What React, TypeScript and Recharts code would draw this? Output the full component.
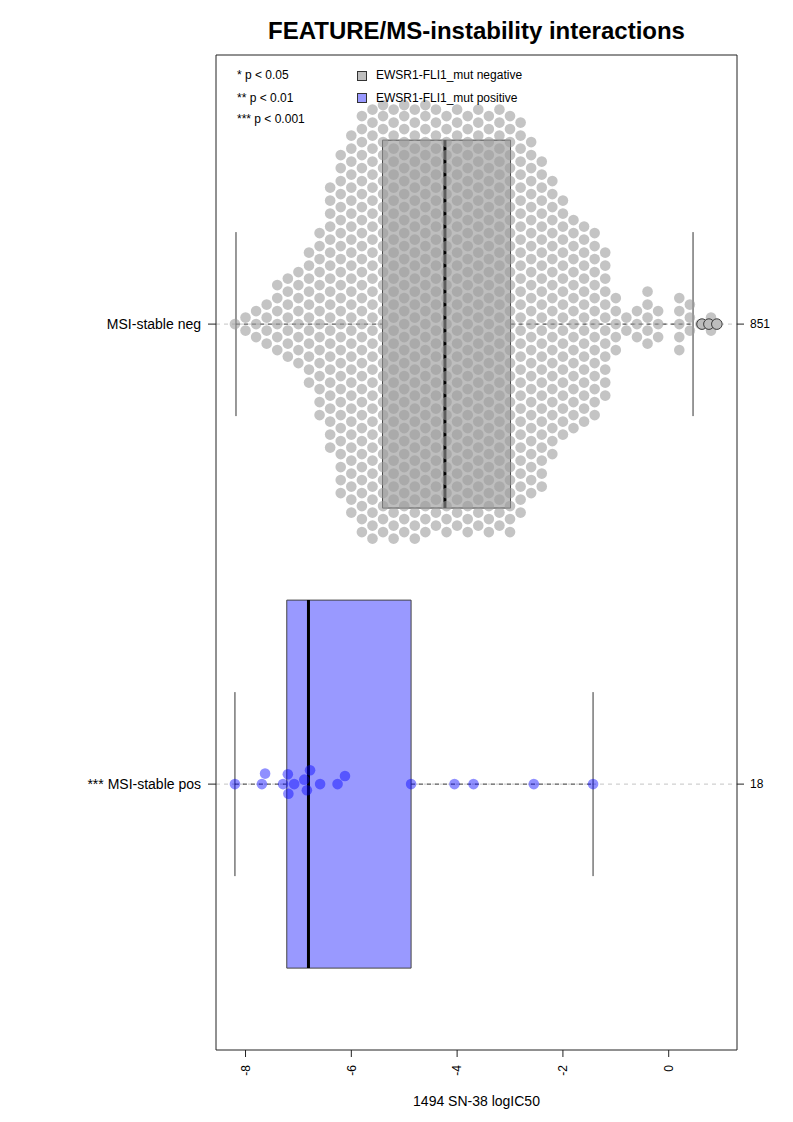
import React from 'react';
import { ScatterChart, Scatter, XAxis, YAxis, ReferenceArea, ReferenceLine } from 'recharts';

// ---------- data ----------
const groupPositions = [1, 2];
const groupLabels = ['MSI-stable neg', '*** MSI-stable pos'];
const groupSizes = ['851', '18'];
const xTicks = [-8, -6, -4, -2, 0];

// MSI-stable neg: swarm columns (logIC50 column centre) and number of cell lines per column
const negColumnCenters = [
  -8.2, -8.0, -7.8, -7.6, -7.4, -7.2, -7.0, -6.8, -6.6, -6.4, -6.2, -6.0, -5.8, -5.6,
  -5.4, -5.2, -5.0, -4.8, -4.6, -4.4, -4.2, -4.0, -3.8, -3.6, -3.4, -3.2, -3.0,
  -2.8, -2.6, -2.4, -2.2, -2.0, -1.8, -1.6, -1.4, -1.2, -1.0,
  -0.8, -0.6, -0.4, -0.2, 0.0, 0.2, 0.4, 0.6, 0.8,
];
const negColumnCounts = [
  1, 2, 3, 4, 6, 7, 8, 11, 15, 21, 27, 30, 33, 34,
  34, 34, 34, 34, 34, 33, 33, 33, 33, 33, 33, 33, 33,
  31, 28, 26, 22, 19, 17, 16, 15, 12, 5,
  2, 3, 5, 3, 0, 5, 3, 1, 2,
];
const negOutliers = [0.63, 0.76, 0.91];

// MSI-stable pos: individual cell lines
const posValues = [
  -8.2, -7.69, -7.63, -7.29, -7.2, -7.19, -7.08, -6.89, -6.84, -6.78,
  -6.59, -6.26, -6.12, -4.87, -4.05, -3.69, -2.55, -1.43,
];

// box statistics per group [neg, pos]
const boxMin = [-8.18, -8.2];
const boxQ1 = [-5.41, -7.22];
const boxMedian = [-4.23, -6.81];
const boxQ3 = [-2.99, -4.87];
const boxMax = [0.46, -1.43];

const boxFills = ['#bebebe', '#9999ff'];
const pointFills = ['#9d9d9d', '#0000ff'];
const pointOpacity = [0.6, 0.44];

// ---------- layout ----------
const CHART_W = 777;
const CHART_H = 1106;
const MARGIN = { top: 47, right: 8, bottom: 0, left: 58 };
const LEFT_AXIS_W = 150;
const RIGHT_AXIS_W = 40;
const X_AXIS_H = 64;
const X_DOMAIN: [number, number] = [-8.558, 1.291];
const Y_DOMAIN: [number, number] = [0.415, 2.578];
const PLOT_W = CHART_W - MARGIN.left - MARGIN.right - LEFT_AXIS_W - RIGHT_AXIS_W;
const PLOT_H = CHART_H - MARGIN.top - MARGIN.bottom - X_AXIS_H;
const PX_PER_X = PLOT_W / (X_DOMAIN[1] - X_DOMAIN[0]);
const PX_PER_Y = PLOT_H / (Y_DOMAIN[1] - Y_DOMAIN[0]);
const R = 5.3;
const BOX_HALF = 0.4;
const STAPLE_HALF = 0.2;

// hexagonal bee-swarm for the binned group
const V_STEP = 13;
const GUTTER = 219;
function hexSwarm(centers: number[], counts: number[], group: number) {
  const pts: { x: number; y: number }[] = [];
  centers.forEach((c, i) => {
    const n = counts[i];
    for (let k = 0; k < n; k++) {
      let off: number;
      if (i % 2 === 0) off = k === 0 ? 0 : Math.ceil(k / 2) * V_STEP * (k % 2 === 1 ? -1 : 1);
      else off = (Math.floor(k / 2) + 0.5) * V_STEP * (k % 2 === 0 ? -1 : 1);
      off = Math.max(-GUTTER, Math.min(GUTTER, off));
      pts.push({ x: c, y: group + off / PX_PER_Y });
    }
  });
  return pts;
}

// classic swarm placement for individual values
function swarm(values: number[], group: number, d: number) {
  const placed: { px: number; py: number; v: number }[] = [];
  const sorted = [...values].sort((a, b) => a - b);
  for (const v of sorted) {
    const px = v * PX_PER_X;
    const near = placed.filter((p) => Math.abs(p.px - px) < d);
    const cands = [0];
    for (const p of near) {
      const dy = Math.sqrt(d * d - (p.px - px) ** 2);
      cands.push(p.py + dy, p.py - dy);
    }
    cands.sort((a, b) => Math.abs(a) - Math.abs(b) || a - b);
    const py =
      cands.find((c) => near.every((p) => (p.px - px) ** 2 + (p.py - c) ** 2 >= d * d - 1e-6)) ?? 0;
    placed.push({ px, py, v });
  }
  return placed.map((p) => ({ x: p.v, y: group + p.py / PX_PER_Y }));
}

const negPoints = hexSwarm(negColumnCenters, negColumnCounts, groupPositions[0]);
const posPoints = swarm(posValues, groupPositions[1], 11);
const negOutlierPoints = negOutliers.map((v) => ({ x: v, y: groupPositions[0] }));

const FONT = '"Liberation Sans", Arial, Helvetica, sans-serif';

const makeDot = (fill: string, opacity: number) => (props: any) =>
  <circle cx={props.cx} cy={props.cy} r={R} fill={fill} fillOpacity={opacity} stroke="none" />;

const outlierDot = (props: any) =>
  <circle cx={props.cx} cy={props.cy} r={R} fill="#bdbdbd" stroke="#3a3a3a" strokeWidth={1} />;

const XTick = (props: any) => {
  const { x, y, payload } = props;
  return (
    <text x={x} y={y} dy="0.35em" textAnchor="end" fontSize={12} fill="#000" fontFamily={FONT}
      transform={`rotate(-90, ${x}, ${y})`}>
      {payload.value}
    </text>
  );
};

export default function App() {
  const legendRows = ['* p < 0.05', '** p < 0.01', '*** p < 0.001'];
  const legendKeys = ['EWSR1-FLI1_mut negative', 'EWSR1-FLI1_mut positive'];
  const rowCenters = [67, 89.5, 110.5];
  return (
    <div style={{ position: 'relative', width: CHART_W, height: CHART_H, fontFamily: FONT }}>
      <div style={{ position: 'absolute', left: 208, width: 521, top: 9, lineHeight: '28px', textAlign: 'center',
        fontSize: 24, fontWeight: 'bold', color: '#000', whiteSpace: 'nowrap' }}>
        FEATURE/MS-instability interactions
      </div>
      <ScatterChart width={CHART_W} height={CHART_H} margin={MARGIN} style={{ fontFamily: FONT }}>
        <XAxis type="number" dataKey="x" domain={X_DOMAIN} ticks={xTicks} allowDataOverflow
          height={X_AXIS_H} axisLine={false} tickSize={7} tickMargin={8}
          tickLine={{ stroke: '#222' }} tick={<XTick />} interval={0}
          label={{ value: '1494 SN-38 logIC50', position: 'insideBottom', offset: 8, fontSize: 14, fill: '#000' }} />
        <YAxis yAxisId="L" type="number" dataKey="y" domain={Y_DOMAIN} reversed allowDataOverflow
          ticks={groupPositions} width={LEFT_AXIS_W} axisLine={false} tickSize={8} tickMargin={7}
          tickLine={{ stroke: '#222' }} interval={0}
          tick={{ fontSize: 14, fill: '#000' }}
          tickFormatter={(v: number) => groupLabels[groupPositions.indexOf(v)]} />
        <YAxis yAxisId="R" orientation="right" type="number" dataKey="y" domain={Y_DOMAIN} reversed allowDataOverflow
          ticks={groupPositions} width={RIGHT_AXIS_W} axisLine={false} tickSize={7} tickMargin={6}
          tickLine={{ stroke: '#222' }} interval={0}
          tick={{ fontSize: 12, fill: '#000' }}
          tickFormatter={(v: number) => groupSizes[groupPositions.indexOf(v)]} />

        {groupPositions.map((g) => (
          <ReferenceLine key={`c${g}`} yAxisId="L" y={g} stroke="#c4c4c4" strokeDasharray="4 4" zIndex={50} />
        ))}
        {groupPositions.map((g, i) => (
          <ReferenceLine key={`wl${g}`} yAxisId="L" segment={[{ x: boxMin[i], y: g }, { x: boxQ1[i], y: g }]}
            stroke="#333" strokeDasharray="4 4" zIndex={60} />
        ))}
        {groupPositions.map((g, i) => (
          <ReferenceLine key={`wr${g}`} yAxisId="L" segment={[{ x: boxQ3[i], y: g }, { x: boxMax[i], y: g }]}
            stroke="#333" strokeDasharray="4 4" zIndex={60} />
        ))}
        {groupPositions.map((g, i) => (
          <ReferenceLine key={`sl${g}`} yAxisId="L"
            segment={[{ x: boxMin[i], y: g - STAPLE_HALF }, { x: boxMin[i], y: g + STAPLE_HALF }]}
            stroke="#333" zIndex={60} />
        ))}
        {groupPositions.map((g, i) => (
          <ReferenceLine key={`sr${g}`} yAxisId="L"
            segment={[{ x: boxMax[i], y: g - STAPLE_HALF }, { x: boxMax[i], y: g + STAPLE_HALF }]}
            stroke="#333" zIndex={60} />
        ))}
        {groupPositions.map((g, i) => (
          <ReferenceArea key={`b${g}`} yAxisId="L" x1={boxQ1[i]} x2={boxQ3[i]} y1={g - BOX_HALF} y2={g + BOX_HALF}
            fill={boxFills[i]} fillOpacity={1} stroke="#444" strokeWidth={1} zIndex={100} />
        ))}
        {groupPositions.map((g, i) => (
          <ReferenceLine key={`m${g}`} yAxisId="L"
            segment={[{ x: boxMedian[i], y: g - BOX_HALF }, { x: boxMedian[i], y: g + BOX_HALF }]}
            stroke="#000" strokeWidth={3} zIndex={110} />
        ))}

        <Scatter yAxisId="L" data={negPoints} shape={makeDot(pointFills[0], pointOpacity[0])} isAnimationActive={false} zIndex={600} />
        <Scatter yAxisId="L" data={posPoints} shape={makeDot(pointFills[1], pointOpacity[1])} isAnimationActive={false} zIndex={600} />
        <Scatter yAxisId="L" data={negOutlierPoints} shape={outlierDot} isAnimationActive={false} zIndex={650} />

        <ReferenceArea yAxisId="L" x1={X_DOMAIN[0]} x2={X_DOMAIN[1]} y1={Y_DOMAIN[0]} y2={Y_DOMAIN[1]}
          fill="none" stroke="#222" strokeWidth={1} ifOverflow="visible" zIndex={900} />
      </ScatterChart>

      {legendRows.map((t, i) => (
        <div key={t} style={{ position: 'absolute', left: 229, top: rowCenters[i] - 7, lineHeight: '14px',
          fontSize: 12, color: '#000', whiteSpace: 'nowrap' }}>{t}</div>
      ))}
      {legendKeys.map((t, i) => (
        <React.Fragment key={t}>
          <div style={{ position: 'absolute', left: 349, top: rowCenters[i] - 4.5, width: 8, height: 8,
            background: boxFills[i], border: '1px solid #333' }} />
          <div style={{ position: 'absolute', left: 368, top: rowCenters[i] - 7, lineHeight: '14px',
            fontSize: 12, color: '#000', whiteSpace: 'nowrap' }}>{t}</div>
        </React.Fragment>
      ))}
    </div>
  );
}
